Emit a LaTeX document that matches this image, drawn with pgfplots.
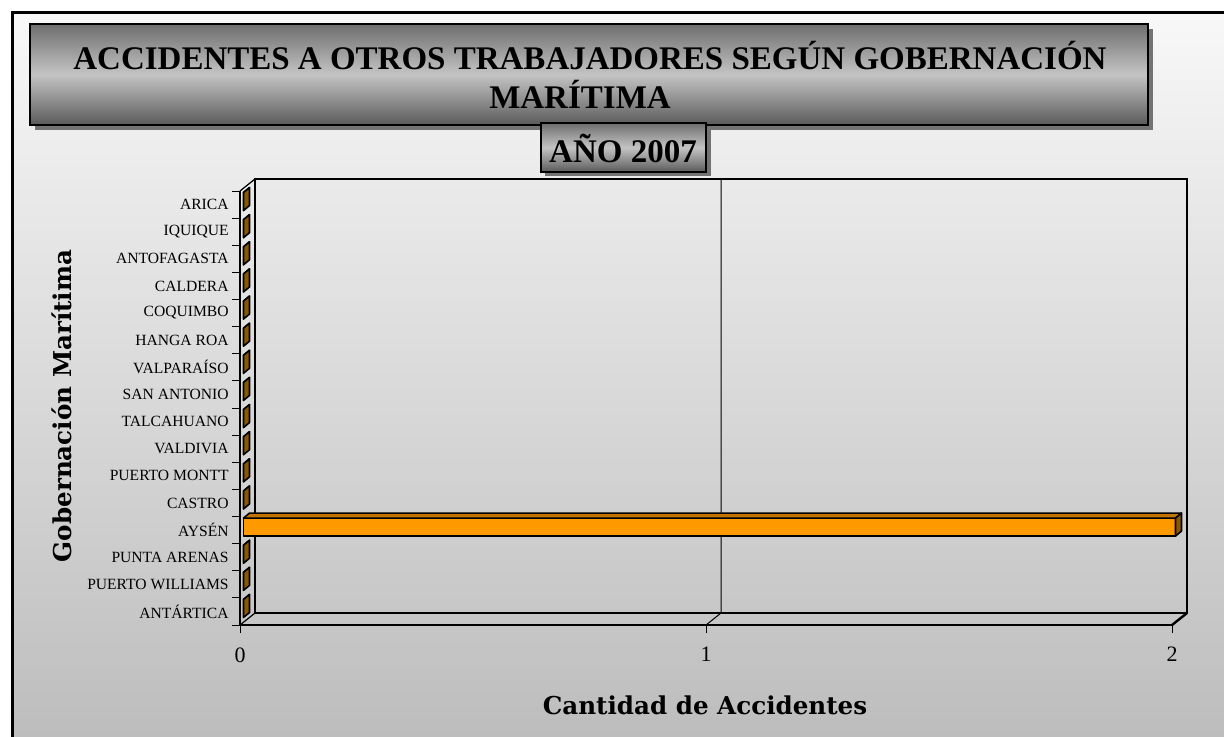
\documentclass[border=0pt]{standalone}
\usepackage{pgfplots}
\pgfplotsset{compat=1.18}
\usepackage{pgfplotstable}
\usepackage{fontspec}
\setmainfont{Liberation Serif}
\newfontfamily\labfont{DejaVu Serif}
\definecolor{barfront}{HTML}{FF9900}
\definecolor{bartop}{HTML}{C27400}
\definecolor{barside}{HTML}{8A5800}
\definecolor{bgtop}{HTML}{F8F8F8}
\definecolor{bgbot}{HTML}{BDBDBD}
\definecolor{tdark}{HTML}{6E6E6E}
\definecolor{tlight}{HTML}{C4C4C4}
\definecolor{tbot}{HTML}{5A5A5A}

% idx: 15 = ARICA (top) ... 0 = ANTARTICA (bottom)
\pgfplotstableread{
idx value
15 0
14 0
13 0
12 0
11 0
10 0
9 0
8 0
7 0
6 0
5 0
4 0
3 2
2 0
1 0
0 0
}\accidentes

\def\dx{7.5pt}
\def\dy{6pt}

\begin{document}
\begin{tikzpicture}
\begin{scope}[x=0.5pt,y=-0.5pt]
\path[use as bounding box] (0,0) rectangle (1224,736);
\fill[white] (0,0) rectangle (1224,736);
\shade[top color=bgtop, bottom color=bgbot] (12,12) rectangle (1224,736);
\draw[line width=1.5pt] (12,737) -- (12,12) -- (1225,12);
% title box
\fill[black!55] (35,29) rectangle (1153,130);
\shade[top color=tdark, bottom color=tbot, middle color=tlight] (30,24) rectangle (1148,125);
\draw[line width=1pt] (30,24) rectangle (1148,125);
\node[font=\fontsize{16.5}{19}\selectfont\bfseries] at (590,55) {ACCIDENTES A OTROS TRABAJADORES SEGÚN GOBERNACIÓN};
\node[font=\fontsize{16.5}{19}\selectfont\bfseries] at (580,94) {MARÍTIMA};
% year box
\fill[black!55] (545,127) rectangle (711,176);
\shade[top color=tdark, bottom color=tbot, middle color=tlight] (541,123) rectangle (706,172);
\draw[line width=1pt] (541,123) rectangle (706,172);
\node[font=\fontsize{16.5}{19}\selectfont\bfseries] at (623,148) {AÑO 2007};
% axis titles
\node[font=\labfont\fontsize{12.3}{14}\selectfont\bfseries, rotate=90] at (62,406) {Gobernación Marítima};
\node[font=\labfont\fontsize{12.3}{14}\selectfont\bfseries] at (705,705) {Cantidad de Accidentes};
\end{scope}

\begin{axis}[
  at={(120pt,-312.5pt)}, anchor=south west,
  scale only axis, width=466pt, height=217pt,
  disabledatascaling,
  xmin=0, xmax=2, ymin=-0.5, ymax=15.5,
  clip=false,
  axis x line*=bottom, axis y line*=left,
  x axis line style={line width=1.2pt, -},
  y axis line style={line width=0.7pt, -},
  xtick={0,1,2}, xticklabels={0,1,2},
  ytick={0,...,15},
  yticklabels={ANTÁRTICA, PUERTO WILLIAMS, PUNTA ARENAS, AYSÉN, CASTRO, PUERTO MONTT, VALDIVIA, TALCAHUANO, SAN ANTONIO, VALPARAÍSO, HANGA ROA, COQUIMBO, CALDERA, ANTOFAGASTA, IQUIQUE, ARICA},
  minor ytick={-0.5,0.5,...,15.5},
  tick align=outside,
  major tick length=4pt, minor tick length=4pt,
  major y tick style={draw=none},
  tick style={black, line width=0.5pt},
  yticklabel style={font=\fontsize{7.8}{9}\selectfont, anchor=east, inner sep=0pt, xshift=-1.5pt},
  xticklabel style={font=\fontsize{11}{13}\selectfont, anchor=north, inner sep=0pt, yshift=-7pt},
]
% left wall
\draw[line width=0.6pt] (axis cs:0,15.5) -- ([shift={(\dx,\dy)}]axis cs:0,15.5);
% floor
\draw[line width=1.2pt] (axis cs:2,-0.5) -- ([shift={(\dx,\dy)}]axis cs:2,-0.5);
\draw[line width=0.6pt] (axis cs:0,-0.5) -- ([shift={(\dx,\dy)}]axis cs:0,-0.5);
% grid line
\draw[line width=0.5pt] (axis cs:1,-0.5) -- ([shift={(\dx,\dy)}]axis cs:1,-0.5) -- ([shift={(\dx,\dy)}]axis cs:1,15.5);
% back wall
\draw[line width=1.3pt] ([shift={(\dx,\dy)}]axis cs:0,-0.5) rectangle ([shift={(\dx,\dy)}]axis cs:2,15.5);

\addplot[
  only marks, scatter, mark=*, mark size=0pt,
  mark options={draw=none, fill=none},
  visualization depends on={\thisrow{value} \as \val},
  scatter/@pre marker code/.code={%
    \pgfplotspointaxisxy{\val}{0}\pgfgetlastxy{\xa}{\ya}%
    \pgfplotspointaxisxy{0}{0}\pgfgetlastxy{\xb}{\yb}%
    \pgfmathsetmacro\xl{1.75-(\xa-\xb)}%
    \pgfmathsetmacro\xlb{4.75-(\xa-\xb)}%
    \filldraw[fill=barfront, draw=black, line width=0.8pt, line join=round] (\xl pt,-3pt) rectangle (1.75pt,6pt);
    \filldraw[fill=bartop, draw=black, line width=0.8pt, line join=round] (\xl pt,6pt) -- (1.75pt,6pt) -- (4.75pt,8.5pt) -- (\xlb pt,8.5pt) -- cycle;
    \filldraw[fill=barside, draw=black, line width=0.8pt, line join=round] (1.75pt,-3pt) -- (4.75pt,-0.5pt) -- (4.75pt,8.5pt) -- (1.75pt,6pt) -- cycle;
  },
  scatter/@post marker code/.code={},
] table[x=value, y=idx] {\accidentes};
\end{axis}
\end{tikzpicture}
\end{document}
